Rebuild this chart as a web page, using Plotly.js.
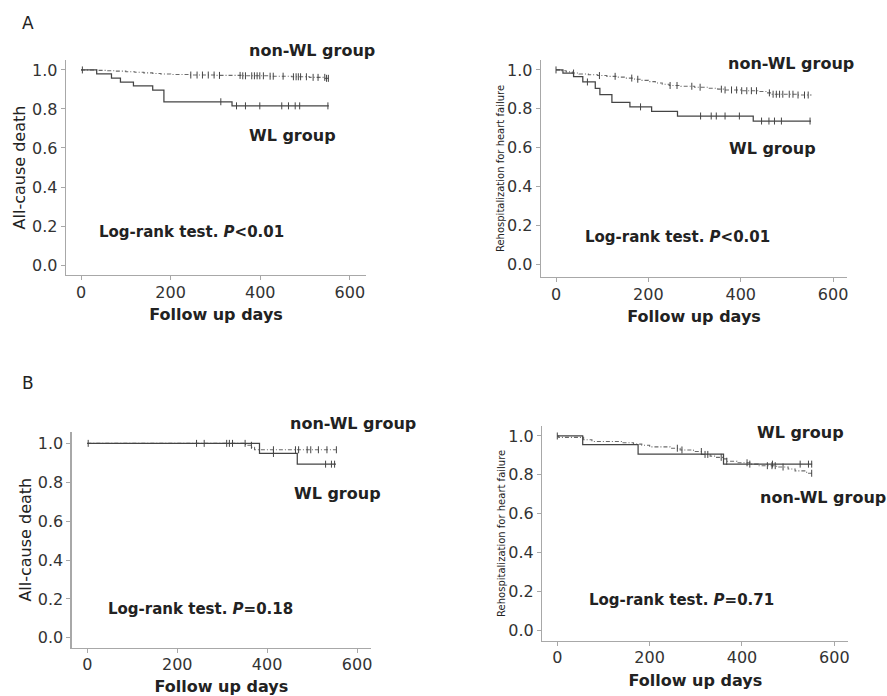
<!DOCTYPE html>
<html>
<head>
<meta charset="utf-8">
<script src="https://cdn.plot.ly/plotly-3.0.1.min.js"></script>
<style>html,body{margin:0;padding:0;background:#fff;}#chart{width:887px;height:696px;}</style>
</head>
<body>
<div id="chart"></div>
<script>
// ---------- Data ----------
// Panel A, left: All-cause death
const AL_wl_t = [0, 35, 68, 88, 117, 160, 185, 337, 553];
const AL_wl_s = [1.0, 0.98, 0.958, 0.937, 0.918, 0.897, 0.837, 0.816, 0.816];
const AL_wl_cens = [312, 347, 367, 399, 448, 463, 478, 488, 551];
const AL_non_t = [0, 35, 55, 75, 100, 120, 140, 160, 178, 200, 240, 300, 360, 420, 470, 510, 545, 553];
const AL_non_s = [1.0, 0.998, 0.996, 0.994, 0.991, 0.988, 0.985, 0.982, 0.979, 0.977, 0.974, 0.972, 0.970, 0.968, 0.965, 0.962, 0.957, 0.957];
const AL_non_cens = [3, 245, 259, 271, 284, 297, 309, 355, 361, 367, 381, 387, 393, 399, 407, 422, 429, 451, 474, 480, 485, 490, 503, 518, 529, 544, 548, 552];

// Panel A, right: Rehospitalization for heart failure
const AR_wl_t = [0, 15, 38, 58, 85, 95, 121, 160, 207, 263, 427, 552];
const AR_wl_s = [1.0, 0.984, 0.965, 0.938, 0.905, 0.873, 0.833, 0.81, 0.787, 0.763, 0.737, 0.737];
const AR_wl_cens = [68, 183, 313, 336, 347, 366, 397, 445, 461, 473, 488, 550];
const AR_non_t = [0, 10, 22, 35, 50, 70, 90, 110, 130, 150, 170, 185, 200, 215, 230, 245, 270, 300, 330, 350, 365, 400, 440, 458, 468, 520, 552];
const AR_non_s = [1.0, 0.996, 0.99, 0.984, 0.979, 0.975, 0.971, 0.967, 0.963, 0.958, 0.952, 0.946, 0.94, 0.933, 0.926, 0.92, 0.916, 0.911, 0.906, 0.901, 0.897, 0.893, 0.889, 0.882, 0.875, 0.871, 0.868];
const AR_non_cens = [0, 38, 94, 128, 164, 177, 247, 262, 294, 312, 358, 366, 380, 391, 402, 413, 423, 434, 462, 470, 477, 484, 491, 505, 513, 524, 538, 546];

// Panel B, left: All-cause death
const BL_wl_t = [0, 383, 467, 553];
const BL_wl_s = [1.0, 0.948, 0.893, 0.893];
const BL_wl_cens = [243, 260, 310, 414, 530, 543, 550];
const BL_non_t = [0, 352, 366, 372, 553];
const BL_non_s = [1.0, 0.99, 0.98, 0.967, 0.967];
const BL_non_cens = [2, 316, 323, 351, 365, 414, 463, 470, 489, 497, 514, 533, 554];

// Panel B, right: Rehospitalization for heart failure
const BR_wl_t = [0, 55, 175, 360, 552];
const BR_wl_s = [1.0, 0.955, 0.906, 0.855, 0.855];
const BR_wl_cens = [466, 526, 544, 551];
const BR_non_t = [0, 3, 57, 75, 140, 165, 183, 200, 244, 266, 295, 313, 331, 345, 360, 367, 389, 417, 435, 475, 500, 515, 540, 552];
const BR_non_s = [1.0, 0.993, 0.981, 0.972, 0.965, 0.958, 0.952, 0.944, 0.937, 0.928, 0.92, 0.905, 0.896, 0.89, 0.882, 0.87, 0.862, 0.855, 0.847, 0.84, 0.83, 0.82, 0.808, 0.808];
const BR_non_cens = [0, 260, 270, 312, 320, 326, 355, 367, 411, 417, 455, 465, 472, 489, 551];

const groupLabels = ['WL group', 'non-WL group'];
const xTitle = 'Follow up days';
const yTitles = ['All-cause death', 'Rehospitalization for heart failure'];
const pTexts = ['<i>P</i>&lt;0.01', '<i>P</i>&lt;0.01', '<i>P</i>=0.18', '<i>P</i>=0.71'];
const panelLetters = ['A', 'B'];

// ---------- Helpers ----------
function stepAt(ts, ss, t) {
  let v = ss[0];
  for (let i = 0; i < ts.length; i++) { if (ts[i] <= t) v = ss[i]; }
  return v;
}
const FONT = 'DejaVu Sans, Arial, sans-serif';
const WL_COLOR = '#444';
const NON_COLOR = '#6a6a6a';
const MARK_COLOR = '#444';
const AX_COLOR = '#a8a8a8';

const traces = [];
function addPanel(n, wt, ws, wc, nt, ns, nc) {
  const xa = n === 1 ? 'x' : 'x' + n, ya = n === 1 ? 'y' : 'y' + n;
  traces.push({x: nt, y: ns, xaxis: xa, yaxis: ya, type: 'scatter', mode: 'lines', line: {shape: 'hv', color: NON_COLOR, width: 1.1, dash: '4px,2px,1px,2px'}, name: groupLabels[1], hoverinfo: 'x+y'});
  traces.push({x: wt, y: ws, xaxis: xa, yaxis: ya, type: 'scatter', mode: 'lines', line: {shape: 'hv', color: WL_COLOR, width: 1.25}, name: groupLabels[0], hoverinfo: 'x+y'});
  traces.push({x: nc, y: nc.map(t => stepAt(nt, ns, t)), xaxis: xa, yaxis: ya, type: 'scatter', mode: 'markers', marker: {symbol: 'line-ns-open', size: 5, line: {width: 1, color: MARK_COLOR}, color: MARK_COLOR}, name: groupLabels[1] + ' censored', hoverinfo: 'x+y'});
  traces.push({x: wc, y: wc.map(t => stepAt(wt, ws, t)), xaxis: xa, yaxis: ya, type: 'scatter', mode: 'markers', marker: {symbol: 'line-ns-open', size: 5, line: {width: 1, color: MARK_COLOR}, color: MARK_COLOR}, name: groupLabels[0] + ' censored', hoverinfo: 'x+y'});
}
addPanel(1, AL_wl_t, AL_wl_s, AL_wl_cens, AL_non_t, AL_non_s, AL_non_cens);
addPanel(2, AR_wl_t, AR_wl_s, AR_wl_cens, AR_non_t, AR_non_s, AR_non_cens);
addPanel(3, BL_wl_t, BL_wl_s, BL_wl_cens, BL_non_t, BL_non_s, BL_non_cens);
addPanel(4, BR_wl_t, BR_wl_s, BR_wl_cens, BR_non_t, BR_non_s, BR_non_cens);

const W = 887, H = 696;
function xdom(a, b) { return [a / W, b / W]; }
function ydom(top, bot) { return [1 - bot / H, 1 - top / H]; }

function xaxis(dom, range, anchor) {
  return {domain: dom, range: range, anchor: anchor, showline: true, linecolor: AX_COLOR, linewidth: 1.3,
    ticks: 'outside', ticklen: 4, tickwidth: 1, tickcolor: AX_COLOR, tick0: 0, dtick: 200, ticklabelstandoff: -2,
    showgrid: false, zeroline: false, tickfont: {family: FONT, size: 16, color: '#333'},
    title: {text: '<b>' + xTitle + '</b>', font: {family: FONT, size: 16, color: '#222'}, standoff: 8}};
}
function yaxis(dom, range, anchor, title, tsize, standoff) {
  return {domain: dom, range: range, anchor: anchor, showline: true, linecolor: AX_COLOR, linewidth: 1.3,
    ticks: 'outside', ticklen: 4, tickwidth: 1, tickcolor: AX_COLOR, tick0: 0, dtick: 0.2, tickformat: '.1f',
    showgrid: false, zeroline: false, tickfont: {family: FONT, size: 16, color: '#333'},
    title: {text: title, font: {family: FONT, size: tsize, color: '#222'}, standoff: standoff}};
}

function ann(text, px, py, size, bold) {
  return {text: bold ? '<b>' + text + '</b>' : text, x: px / W, y: 1 - py / H, xref: 'paper', yref: 'paper',
    xanchor: 'left', yanchor: 'middle', showarrow: false, font: {family: FONT, size: size, color: '#222'}};
}

const layout = {
  width: W, height: H, margin: {l: 0, r: 0, t: 0, b: 0}, paper_bgcolor: '#fff', plot_bgcolor: '#fff',
  showlegend: false,
  xaxis: xaxis(xdom(66, 366), [-33.5, 636], 'y'),
  yaxis: yaxis(ydom(60, 275), [-0.051, 1.051], 'x', yTitles[0], 16, 2),
  xaxis2: xaxis(xdom(541, 847), [-32.5, 630], 'y2'),
  yaxis2: yaxis(ydom(60, 277), [-0.065, 1.051], 'x2', yTitles[1], 10, 0),
  xaxis3: xaxis(xdom(71.7, 371), [-34.7, 631], 'y3'),
  yaxis3: yaxis(ydom(431.7, 647.7), [-0.051, 1.06], 'x3', yTitles[0], 16, 2),
  xaxis4: xaxis(xdom(542.3, 848.3), [-32.5, 630.3], 'y4'),
  yaxis4: yaxis(ydom(426, 640.7), [-0.055, 1.0515], 'x4', yTitles[1], 10, 0),
  annotations: [
    ann(panelLetters[0], 20, 23, 17, false),
    ann(groupLabels[1], 247, 50, 16, true),
    ann(groupLabels[0], 247, 135, 16, true),
    ann('<b>Log-rank test. ' + pTexts[0] + '</b>', 97, 232, 15, false),
    ann(groupLabels[1], 726, 63, 16, true),
    ann(groupLabels[0], 727, 148, 16, true),
    ann('<b>Log-rank test. ' + pTexts[1] + '</b>', 583, 237, 15, false),
    ann(panelLetters[1], 20, 383, 17, false),
    ann(groupLabels[1], 288, 423, 16, true),
    ann(groupLabels[0], 292, 493, 16, true),
    ann('<b>Log-rank test. ' + pTexts[2] + '</b>', 106, 609, 15, false),
    ann(groupLabels[0], 755, 432, 16, true),
    ann(groupLabels[1], 758, 497, 16, true),
    ann('<b>Log-rank test. ' + pTexts[3] + '</b>', 587, 600, 15, false)
  ]
};

Plotly.newPlot('chart', traces, layout, {staticPlot: true, displayModeBar: false});
</script>
</body>
</html>
